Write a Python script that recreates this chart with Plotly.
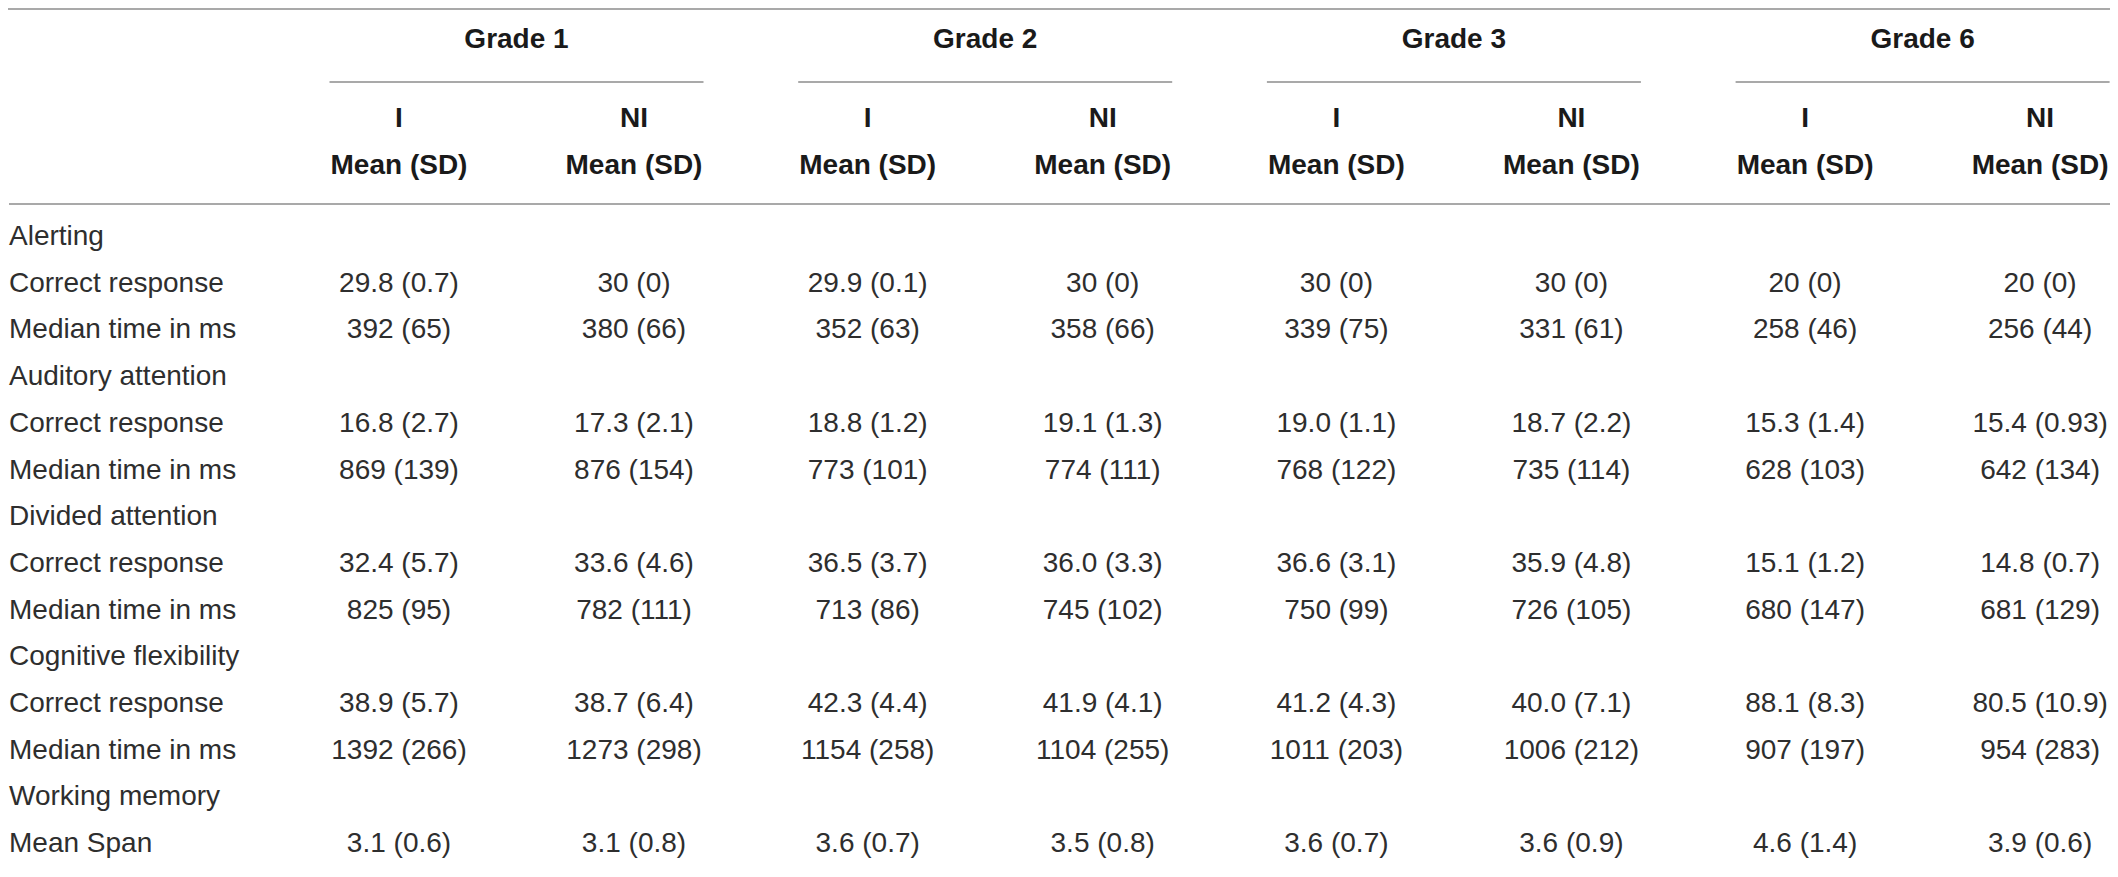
import plotly.graph_objects as go

# table content
grades = ["Grade 1", "Grade 2", "Grade 3", "Grade 6"]
groups = ["I", "NI"]
stat_label = "Mean (SD)"

sections = ["Alerting", "Auditory attention", "Divided attention",
            "Cognitive flexibility", "Working memory"]
measures = [["Correct response", "Median time in ms"],
            ["Correct response", "Median time in ms"],
            ["Correct response", "Median time in ms"],
            ["Correct response", "Median time in ms"],
            ["Mean Span"]]

grade1_i = ["29.8 (0.7)", "392 (65)", "16.8 (2.7)", "869 (139)", "32.4 (5.7)",
            "825 (95)", "38.9 (5.7)", "1392 (266)", "3.1 (0.6)"]
grade1_ni = ["30 (0)", "380 (66)", "17.3 (2.1)", "876 (154)", "33.6 (4.6)",
             "782 (111)", "38.7 (6.4)", "1273 (298)", "3.1 (0.8)"]
grade2_i = ["29.9 (0.1)", "352 (63)", "18.8 (1.2)", "773 (101)", "36.5 (3.7)",
            "713 (86)", "42.3 (4.4)", "1154 (258)", "3.6 (0.7)"]
grade2_ni = ["30 (0)", "358 (66)", "19.1 (1.3)", "774 (111)", "36.0 (3.3)",
             "745 (102)", "41.9 (4.1)", "1104 (255)", "3.5 (0.8)"]
grade3_i = ["30 (0)", "339 (75)", "19.0 (1.1)", "768 (122)", "36.6 (3.1)",
            "750 (99)", "41.2 (4.3)", "1011 (203)", "3.6 (0.7)"]
grade3_ni = ["30 (0)", "331 (61)", "18.7 (2.2)", "735 (114)", "35.9 (4.8)",
             "726 (105)", "40.0 (7.1)", "1006 (212)", "3.6 (0.9)"]
grade6_i = ["20 (0)", "258 (46)", "15.3 (1.4)", "628 (103)", "15.1 (1.2)",
            "680 (147)", "88.1 (8.3)", "907 (197)", "4.6 (1.4)"]
grade6_ni = ["20 (0)", "256 (44)", "15.4 (0.93)", "642 (134)", "14.8 (0.7)",
             "681 (129)", "80.5 (10.9)", "954 (283)", "3.9 (0.6)"]

columns = [grade1_i, grade1_ni, grade2_i, grade2_ni,
           grade3_i, grade3_ni, grade6_i, grade6_ni]

# geometry in page pixels; the page body keeps an 8px margin, so the
# axes start at 8 and everything is placed at or after that
W, H = 2118, 877
PAD = 8
label_x = 9
col0 = 399
sub_step = 235
grade_step = 468.7
underline_half = 187
y_top_rule = 9
y_grade = 41
y_underline = 82
y_group = 120
y_stat = 167
y_head_rule = 204
y_row0 = 238
row_step = 46.7

body_font = dict(family="Liberation Sans, Arial, sans-serif", size=28, color="#2e2e2e")
head_font = dict(family="Liberation Sans, Arial, sans-serif", size=28, color="#1a1a1a")

# flatten rows
row_texts, row_is_section = [], []
for sec, meas in zip(sections, measures):
    row_texts.append(sec)
    row_is_section.append(True)
    for m in meas:
        row_texts.append(m)
        row_is_section.append(False)
row_y = [y_row0 + i * row_step for i in range(len(row_texts))]
data_rows_y = [y for y, s in zip(row_y, row_is_section) if not s]

fig = go.Figure()

# row labels
fig.add_trace(go.Scatter(
    x=[label_x] * len(row_texts), y=row_y, text=row_texts, mode="text",
    textposition="middle right", textfont=body_font, hoverinfo="skip",
    cliponaxis=False))

# header + cells
col_x = []
for g in range(len(grades)):
    for s in range(len(groups)):
        col_x.append(col0 + g * grade_step + s * sub_step)

grade_x = [col0 + g * grade_step + sub_step / 2 for g in range(len(grades))]
fig.add_trace(go.Scatter(
    x=grade_x, y=[y_grade] * len(grades), text=["<b>%s</b>" % t for t in grades],
    mode="text", textposition="middle center", textfont=head_font,
    hoverinfo="skip", cliponaxis=False))

fig.add_trace(go.Scatter(
    x=col_x, y=[y_group] * len(col_x),
    text=["<b>%s</b>" % groups[i % 2] for i in range(len(col_x))],
    mode="text", textposition="middle center", textfont=head_font,
    hoverinfo="skip", cliponaxis=False))
fig.add_trace(go.Scatter(
    x=col_x, y=[y_stat] * len(col_x), text=["<b>%s</b>" % stat_label] * len(col_x),
    mode="text", textposition="middle center", textfont=head_font,
    hoverinfo="skip", cliponaxis=False))

for cx, vals in zip(col_x, columns):
    fig.add_trace(go.Scatter(
        x=[cx] * len(vals), y=data_rows_y, text=vals, mode="text",
        textposition="middle center", textfont=body_font,
        hoverinfo="skip", cliponaxis=False))

# rules
rule = dict(color="#8c8c8c", width=1.6)
fig.add_shape(type="line", x0=PAD, x1=W, y0=y_top_rule, y1=y_top_rule, line=rule)
fig.add_shape(type="line", x0=label_x, x1=W, y0=y_head_rule, y1=y_head_rule, line=rule)
for gx in grade_x:
    fig.add_shape(type="line", x0=gx - underline_half, x1=gx + underline_half,
                  y0=y_underline, y1=y_underline, line=rule)

fig.update_xaxes(range=[PAD, W], visible=False, fixedrange=True)
fig.update_yaxes(range=[H, PAD], visible=False, fixedrange=True)
fig.update_layout(width=W - PAD, height=H - PAD,
                  margin=dict(l=0, r=0, t=0, b=0),
                  plot_bgcolor="white", paper_bgcolor="white", showlegend=False)

fig.write_html("out.html")
